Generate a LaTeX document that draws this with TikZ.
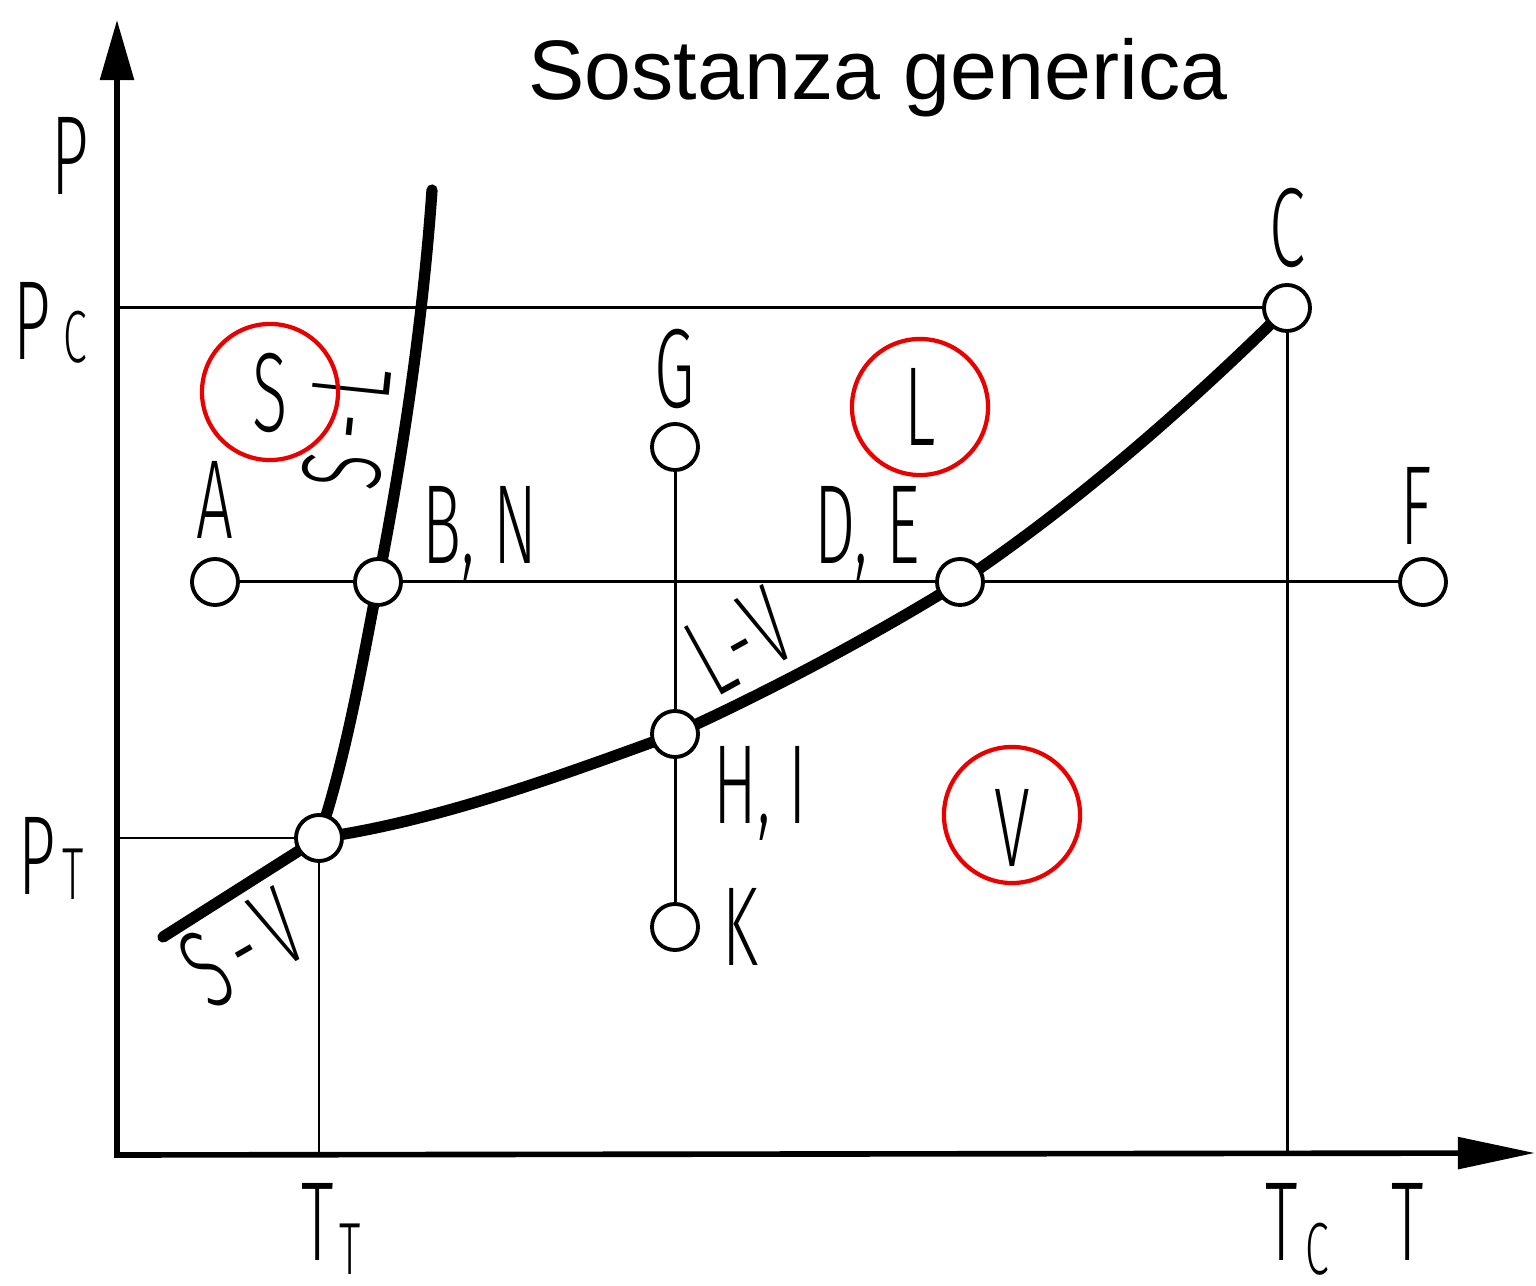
\documentclass[tikz,border=0pt]{standalone}
\usepackage{fontspec}
\setmainfont{Liberation Sans}
\newfontfamily\labfont{Fira Sans}[UprightFont={* Light}, FakeStretch=0.58]
\usepackage{tikz}
\usetikzlibrary{arrows.meta, positioning, backgrounds}
\definecolor{phasered}{RGB}{235, 0, 0}
\newcommand{\lowsub}[2][0cm]{\raisebox{-#1}{\fontsize{21}{21}\selectfont #2}}

\begin{document}
\begin{tikzpicture}[
    x=0.01cm, y=-0.01cm,
    state/.style={circle, draw, line width=1.1pt, fill=white, minimum size=0.46cm, inner sep=0pt},
    phase/.style={circle, draw=phasered, line width=1.2pt, minimum size=1.36cm, inner sep=0pt,
                  text depth=0pt, font=\labfont\fontsize{32}{32}\selectfont},
    lab/.style={inner sep=0pt, text depth=0pt, font=\labfont\fontsize{32}{32}\selectfont},
    guide/.style={line width=0.85pt},
    boundary/.style={line width=3.2pt, line cap=round},
    axis/.style={line width=1.6pt}
]
    \useasboundingbox (0,0) rectangle (1536,1286);

    \node[font=\fontsize{24}{29}\selectfont, anchor=base] (title) at (878,100) {Sostanza generica};

    % axes
    \coordinate (origin) at (117,1155);
    \coordinate (ptop) at (117,20);
    \coordinate (tend) at (1535,1153);
    \draw[axis, {Triangle[length=0.6cm, width=0.33cm]}-{Triangle[length=0.77cm, width=0.31cm]}]
        (ptop) -- (origin) -- (tend);

    % states
    \node[state] (a)  at (215,582) {};
    \node[state] (bn) at (378,582) {};
    \node[state] (de) at (960,582) {};
    \node[state] (f)  at (1423,582) {};
    \node[state] (g)  at (675,447) {};
    \node[state] (hi) at (675,734) {};
    \node[state] (k)  at (675,927) {};
    \node[state] (c)  at (1287,308) {};
    \node[state] (tp) at (319,838) {};

    \node[lab, above=0.18cm of a] (alab) {A};
    \node[lab, above right=0cm and 0.26cm of bn] (bnlab) {B, N};
    \node[lab, above left=0cm and 0.22cm of de] (delab) {D, E};
    \node[lab, above=0.12cm of f, xshift=-0.07cm] (flab) {F};
    \node[lab, above=0.14cm of g] (glab) {G};
    \node[lab, below right=-0.06cm and 0.2cm of hi] (hilab) {H, I};
    \node[lab, right=0.22cm of k] (klab) {K};
    \node[lab, above=0.16cm of c] (clab) {C};

    \node[lab, rotate=84] (sllab) at (346,428) {S\kern0.15cm-\kern0.15cm L};
    \node[lab, rotate=30] (svlab) at (242,948) {S\kern0.11cm-\kern0.11cm V};
    \node[lab, rotate=29] (lvlab) at (740,641) {L\kern0.03cm-\kern0.03cm V};

    % phases
    \node[phase] (sol) at (270,392) {S};
    \node[phase] (liq) at (920,407) {L};
    \node[phase] (vap) at (1012,815) {\raisebox{-0.26cm}{V}};

    % axis labels
    \node[lab, anchor=base] (plab) at (70,195) {P};
    \node[lab, anchor=base west] (pclab) at (13,360) {P\hspace{0.13cm}\lowsub[0.03cm]{C}};
    \node[lab, anchor=base west] (ptlab) at (18,895) {P\hspace{0.07cm}\lowsub[0.05cm]{T}};
    \node[lab, anchor=base west] (ttlab) at (301,1260) {T\hspace{0.05cm}\lowsub[0.14cm]{T}};
    \node[lab, anchor=base west] (tclab) at (1265,1260) {T\hspace{0.07cm}\lowsub[0.14cm]{C}};
    \node[lab, anchor=base] (tlab) at (1408,1260) {T};

    \begin{scope}[on background layer]
        \coordinate (pcax) at (117,308);
        \coordinate (tcax) at (1287,1155);
        \coordinate (ptax) at (117,838);
        \coordinate (ttax) at (319,1155);
        \coordinate (sltop) at (432,190);
        \coordinate (svend) at (163,937);
        \draw[guide] (pcax) -- (c.center) -- (tcax);
        \draw[guide] (ptax) -- (tp.center) -- (ttax);
        \draw[guide] (a.center) -- (bn.center) -- (de.center) -- (f.center);
        \draw[guide] (g.center) -- (hi.center) -- (k.center);
        % phase boundaries
        \draw[boundary] (svend) -- (tp.center);
        \draw[boundary] (tp.center) .. controls (346,757) and (362,665) .. (bn.center)
            .. controls (403,454) and (423,320) .. (sltop);
        \draw[boundary] (tp.center) .. controls (439,821) and (562,775) .. (hi.center)
            .. controls (766,693) and (875,635) .. (de.center)
            .. controls (1076,504) and (1188,406) .. (c.center);
    \end{scope}
\end{tikzpicture}
\end{document}
